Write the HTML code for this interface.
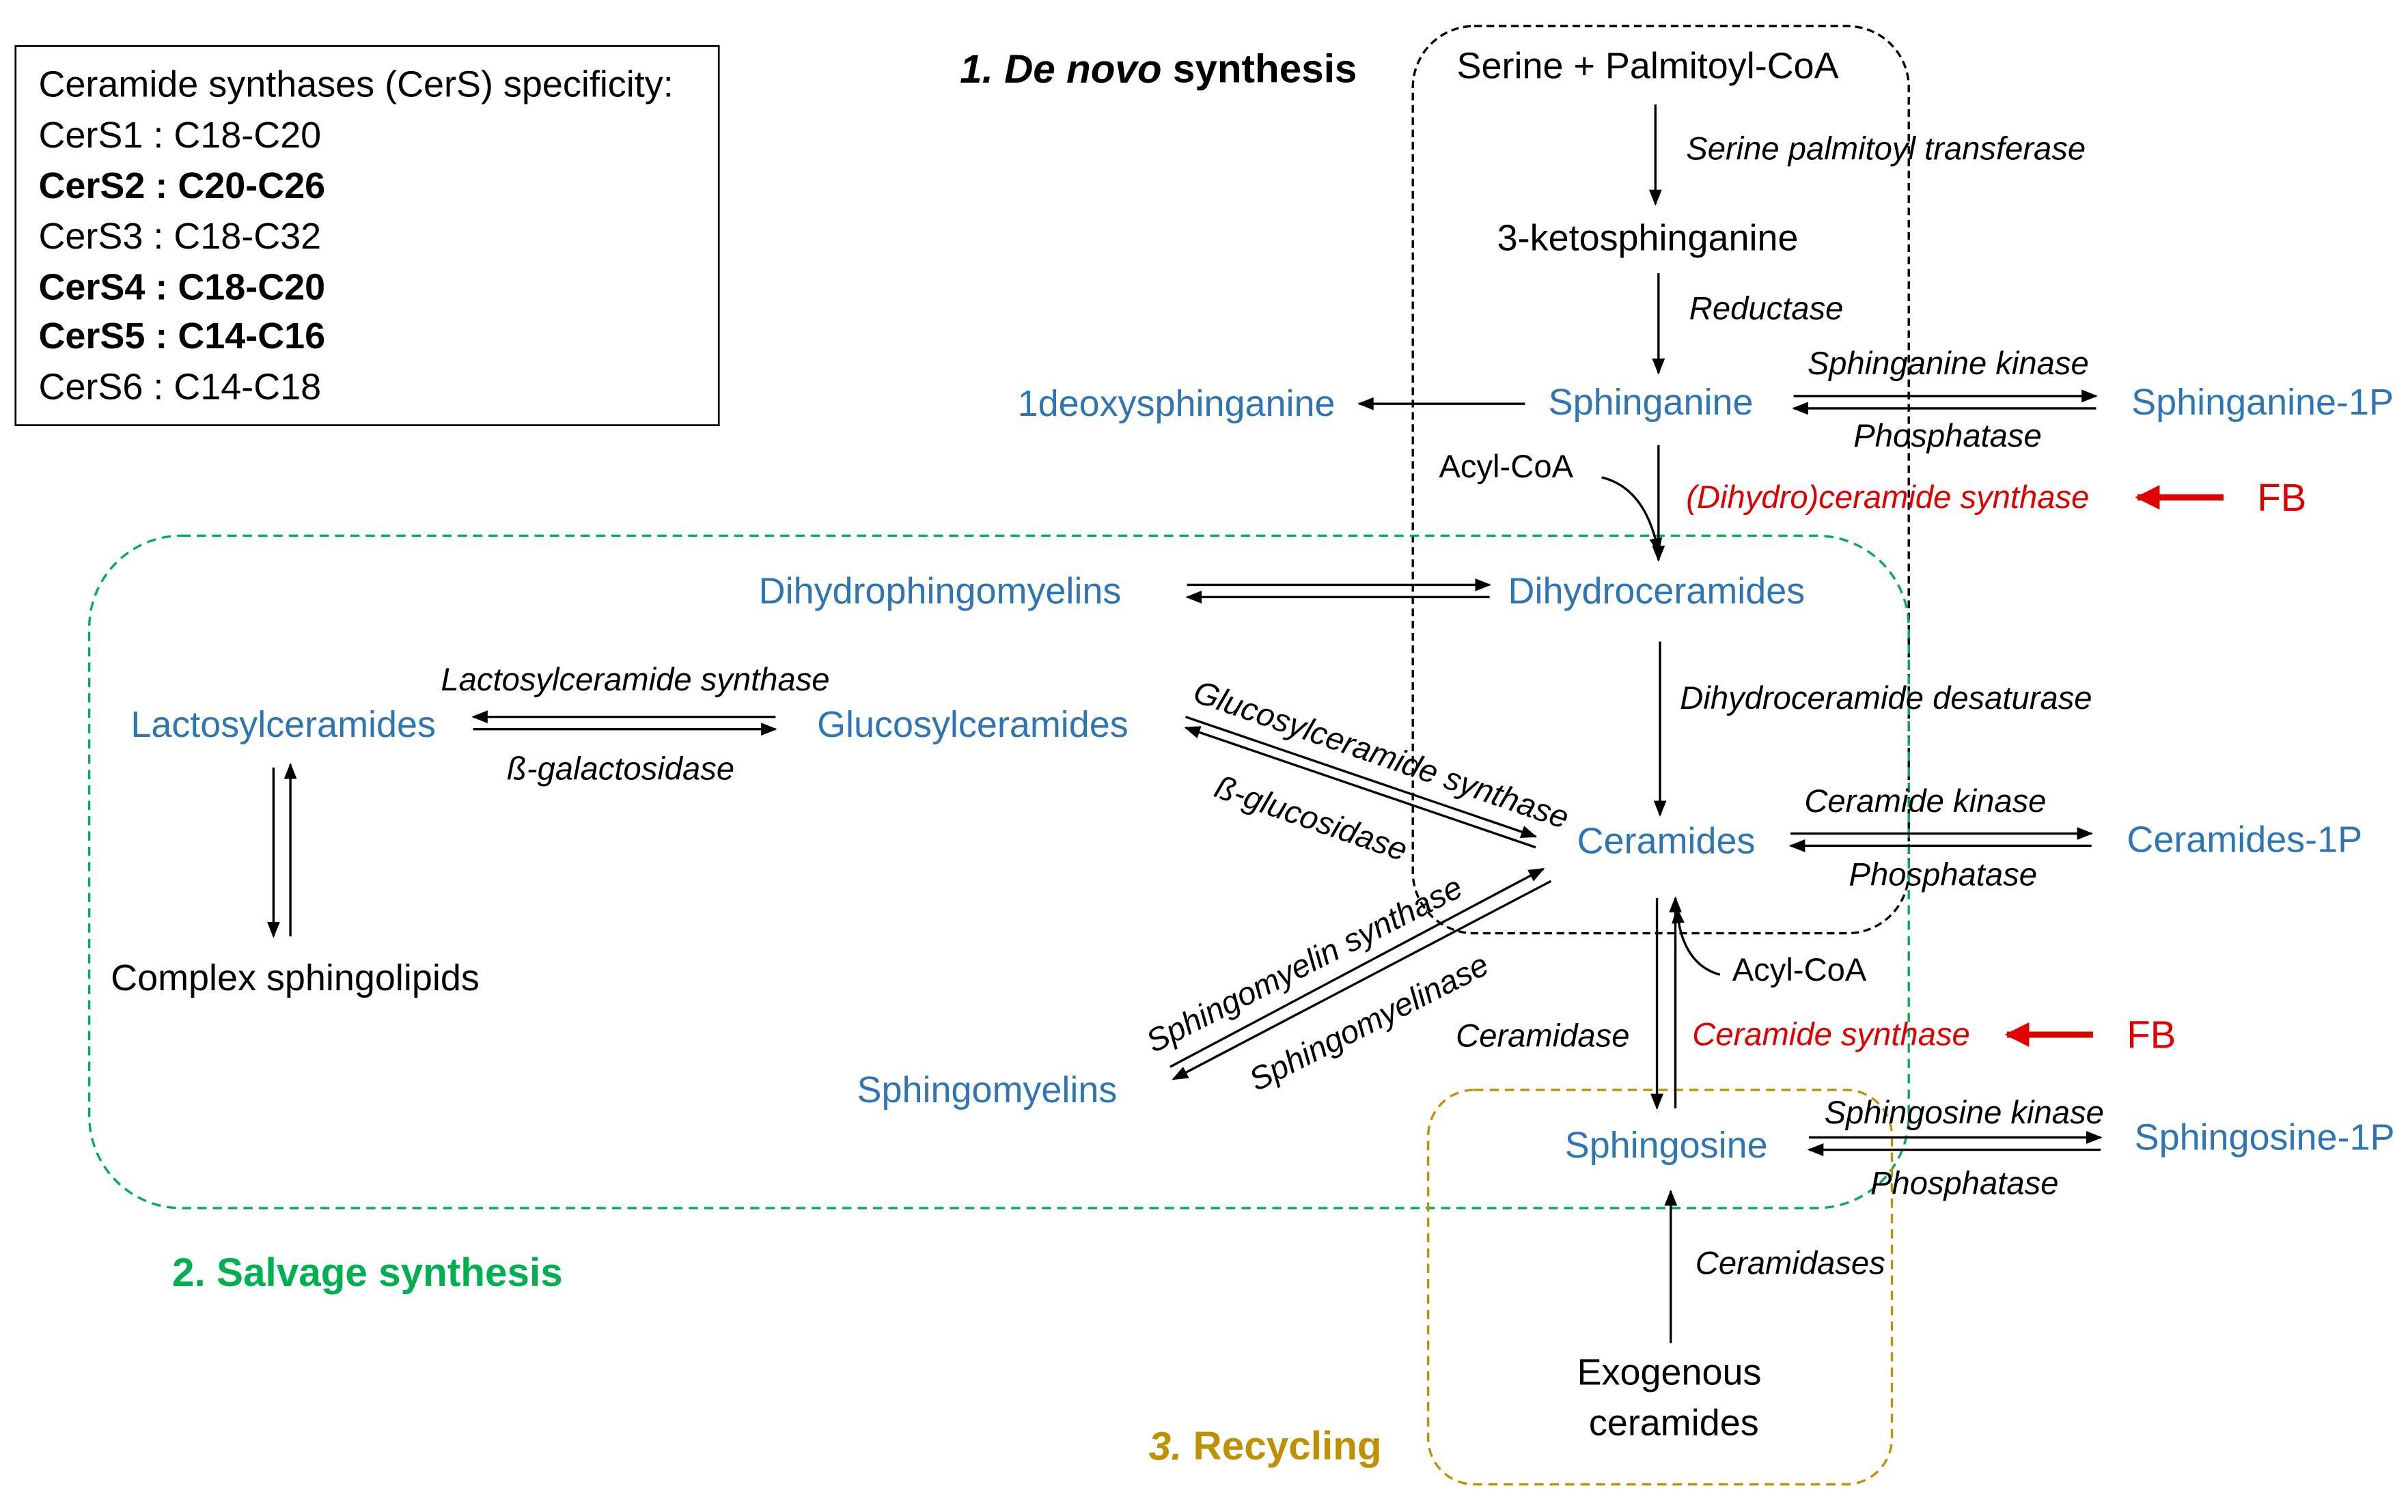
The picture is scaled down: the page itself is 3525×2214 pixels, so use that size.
<!DOCTYPE html>
<html><head><meta charset="utf-8"><style>html,body{margin:0;padding:0;background:#fff}svg{display:block}</style></head><body>
<svg width="3525" height="2214" viewBox="0 0 1568 985" xmlns="http://www.w3.org/2000/svg" font-family="Liberation Sans, sans-serif">
<defs>
<marker id="a" viewBox="0 0 10 10" refX="9" refY="5" markerWidth="7" markerHeight="7" orient="auto-start-reverse"><path d="M0,1 L10,5 L0,9 z" fill="#000"/></marker>
<marker id="r" viewBox="0 0 10 10" refX="9" refY="5" markerWidth="4" markerHeight="4" orient="auto"><path d="M0,0 L10,5 L0,10 z" fill="#e00000"/></marker>
</defs>
<rect width="1568" height="985" fill="#fff"/>
<rect x="10" y="30" width="458" height="247" fill="none" stroke="#000" stroke-width="1.2"/>
<g font-size="24" dominant-baseline="central">
<text x="25" y="55">Ceramide synthases (CerS) specificity:</text>
<text x="25" y="88">CerS1 : C18-C20</text>
<text x="25" y="121" font-weight="bold">CerS2 : C20-C26</text>
<text x="25" y="154">CerS3 : C18-C32</text>
<text x="25" y="187" font-weight="bold">CerS4 : C18-C20</text>
<text x="25" y="219" font-weight="bold">CerS5 : C14-C16</text>
<text x="25" y="252">CerS6 : C14-C18</text>
</g>
<rect x="920" y="17" width="323" height="591" rx="40" fill="none" stroke="#000" stroke-width="1.5" stroke-dasharray="5,3"/>
<rect x="58" y="349" width="1185" height="438" rx="60" fill="none" stroke="#00b050" stroke-width="1.5" stroke-dasharray="6,4"/>
<rect x="930" y="710" width="302" height="257" rx="30" fill="none" stroke="#bf9000" stroke-width="1.5" stroke-dasharray="6,4"/>
<g font-size="26" font-weight="bold" dominant-baseline="central">
<text x="625" y="45"><tspan font-style="italic">1. De novo</tspan> synthesis</text>
<text x="112" y="829" fill="#00b050">2. Salvage synthesis</text>
<text x="748" y="942" fill="#bf9000"><tspan font-style="italic">3.</tspan> Recycling</text>
</g>
<g stroke="#000" stroke-width="1.5" fill="none" marker-end="url(#a)">
<line x1="1078" y1="68" x2="1078" y2="133"/>
<line x1="1080" y1="178" x2="1080" y2="243"/>
<line x1="993" y1="263" x2="885" y2="263"/>
<line x1="1168" y1="258" x2="1365" y2="258"/>
<line x1="1365" y1="266" x2="1168" y2="266"/>
<line x1="1080" y1="290" x2="1080" y2="365"/>
<path d="M1043,311 Q1072,318 1080,360"/>
<line x1="773" y1="381" x2="970" y2="381"/>
<line x1="970" y1="389" x2="773" y2="389"/>
<line x1="1081" y1="418" x2="1081" y2="531"/>
<line x1="505" y1="467" x2="308" y2="467"/>
<line x1="308" y1="475" x2="505" y2="475"/>
<line x1="178" y1="500" x2="178" y2="610"/>
<line x1="189" y1="610" x2="189" y2="498"/>
<line x1="772" y1="467" x2="1000" y2="545"/>
<line x1="1000" y1="552" x2="772" y2="474"/>
<line x1="1166" y1="543" x2="1362" y2="543"/>
<line x1="1362" y1="551" x2="1166" y2="551"/>
<line x1="762" y1="695" x2="1005" y2="566"/>
<line x1="1010" y1="574" x2="764" y2="703"/>
<line x1="1079" y1="585" x2="1079" y2="722"/>
<line x1="1091" y1="722" x2="1091" y2="585"/>
<path d="M1120,635 Q1095,628 1092,592"/>
<line x1="1178" y1="741" x2="1368" y2="741"/>
<line x1="1368" y1="749" x2="1178" y2="749"/>
<line x1="1088" y1="875" x2="1088" y2="776"/>
</g>
<g stroke="#e00000" stroke-width="4" marker-end="url(#r)">
<line x1="1448" y1="324" x2="1392" y2="324"/>
<line x1="1363" y1="674" x2="1307" y2="674"/>
</g>
<g font-size="24" dominant-baseline="central">
<text x="1073" y="43" text-anchor="middle">Serine + Palmitoyl-CoA</text>
<text x="1073" y="155" text-anchor="middle">3-ketosphinganine</text>
<text x="937" y="304" font-size="21">Acyl-CoA</text>
<text x="72" y="637">Complex sphingolipids</text>
<text x="1128" y="632" font-size="21">Acyl-CoA</text>
<text x="1087" y="894" text-anchor="middle">Exogenous</text>
<text x="1090" y="927" text-anchor="middle">ceramides</text>
<g fill="#2e75b6">
<text x="1075" y="262" text-anchor="middle">Sphinganine</text>
<text x="766" y="263" text-anchor="middle">1deoxysphinganine</text>
<text x="1388" y="262">Sphinganine-1P</text>
<text x="982" y="385">Dihydroceramides</text>
<text x="494" y="385">Dihydrophingomyelins</text>
<text x="85" y="472">Lactosylceramides</text>
<text x="532" y="472">Glucosylceramides</text>
<text x="1027" y="548">Ceramides</text>
<text x="1385" y="547">Ceramides-1P</text>
<text x="558" y="710">Sphingomyelins</text>
<text x="1019" y="746">Sphingosine</text>
<text x="1390" y="741">Sphingosine-1P</text>
</g>
<g fill="#e00000" font-size="25"><text x="1470" y="324">FB</text><text x="1385" y="674">FB</text></g>
</g>
<g font-size="21" font-style="italic" dominant-baseline="central">
<text x="1098" y="97">Serine palmitoyl transferase</text>
<text x="1100" y="201">Reductase</text>
<text x="1177" y="237">Sphinganine kinase</text>
<text x="1207" y="284">Phosphatase</text>
<text x="1098" y="324" fill="#e00000">(Dihydro)ceramide synthase</text>
<text x="1094" y="455">Dihydroceramide desaturase</text>
<text x="287" y="443">Lactosylceramide synthase</text>
<text x="330" y="501">ß-galactosidase</text>
<text x="1175" y="522">Ceramide kinase</text>
<text x="1204" y="570">Phosphatase</text>
<text x="948" y="675">Ceramidase</text>
<text x="1102" y="674" fill="#e00000">Ceramide synthase</text>
<text x="1188" y="725">Sphingosine kinase</text>
<text x="1218" y="771">Phosphatase</text>
<text x="1104" y="823">Ceramidases</text>
<text transform="translate(778,450) rotate(19)">Glucosylceramide synthase</text>
<text transform="translate(792,512) rotate(19)">ß-glucosidase</text>
<text transform="translate(748,680) rotate(-27)">Sphingomyelin synthase</text>
<text transform="translate(815,705) rotate(-27)">Sphingomyelinase</text>
</g>
</svg>
</body></html>
